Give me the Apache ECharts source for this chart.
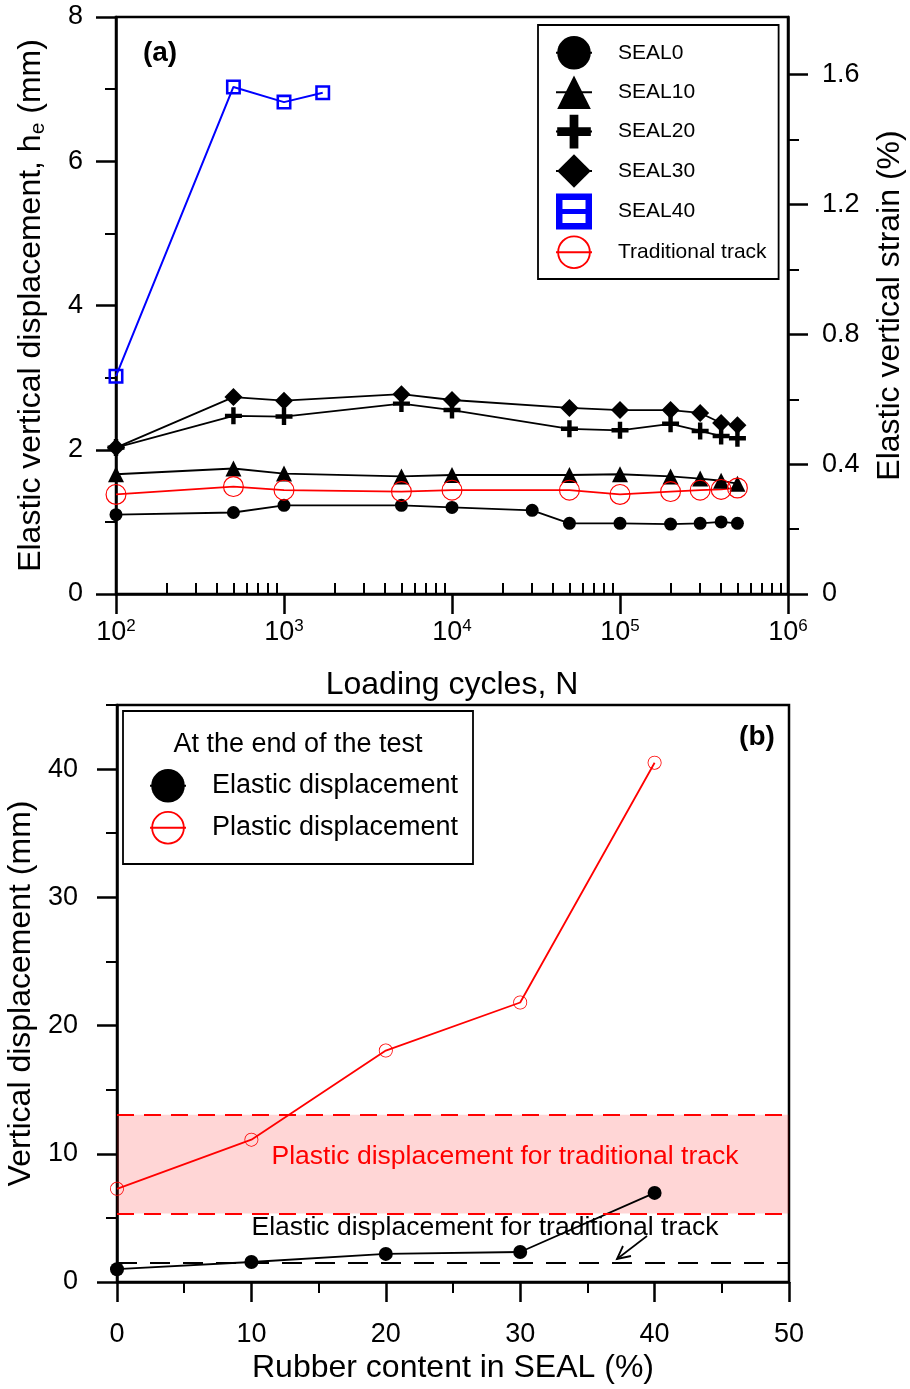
<!DOCTYPE html>
<html><head><meta charset="utf-8">
<script src="https://cdn.jsdelivr.net/npm/echarts@6.0.0/dist/echarts.min.js"></script>
<style>html,body{margin:0;padding:0;background:#fff}#c{width:910px;height:1389px}</style>
</head><body><div id="c"></div>
<script>
const FONT = '"Liberation Sans", Arial, Helvetica, sans-serif';

// ---- panel (a) data: loading cycles N vs elastic vertical displacement (mm)
const cyclesSeal0 = [100, 500, 1000, 5000, 10000, 30000, 50000, 100000, 200000, 300000, 400000, 500000];
const seal0 = [1.10, 1.13, 1.23, 1.23, 1.20, 1.16, 0.98, 0.98, 0.97, 0.98, 1.00, 0.98];
const cyclesMain = [100, 500, 1000, 5000, 10000, 50000, 100000, 200000, 300000, 400000, 500000];
const seal10 = [1.66, 1.74, 1.67, 1.63, 1.65, 1.65, 1.66, 1.63, 1.60, 1.57, 1.53];
const seal20 = [2.03, 2.47, 2.46, 2.64, 2.55, 2.29, 2.27, 2.36, 2.26, 2.19, 2.16];
const seal30 = [2.03, 2.73, 2.68, 2.77, 2.69, 2.58, 2.55, 2.55, 2.51, 2.37, 2.34];
const cyclesSeal40 = [100, 500, 1000, 1700];
const seal40 = [3.02, 7.03, 6.82, 6.95];
const traditional = [1.38, 1.49, 1.44, 1.42, 1.44, 1.44, 1.38, 1.42, 1.44, 1.45, 1.47];

// axis ticks for panel (a)
const minorCycleTicks = [200,300,400,500,600,700,800,900, 2000,3000,4000,5000,6000,7000,8000,9000,
  20000,30000,40000,50000,60000,70000,80000,90000, 200000,300000,400000,500000,600000,700000,800000,900000];
const strainMajorTicks = [0, 0.4, 0.8, 1.2, 1.6];
const strainMinorTicks = [0.2, 0.6, 1.0, 1.4];
const sampleHeightMm = 450; // 8 mm <-> 1.778 %

// ---- panel (b) data: rubber content vs displacement at end of test
const rubber = [0, 10, 20, 30, 40];
const elastic = [1.00, 1.56, 2.19, 2.34, 6.95];
const plastic = [7.27, 11.1, 18.05, 21.8, 40.5];
const plasticTradLow = 5.35;
const plasticTradHigh = 13.05;
const elasticTrad = 1.48;
const dispMajorTicks = [0, 10, 20, 30, 40];
const dispMinorTicks = [5, 15, 25, 35, 45];

const zip = (xs, ys) => xs.map((x, i) => [x, ys[i]]);

const PLUS = 'path://M3.7,0 H6.3 V3.7 H10 V6.3 H6.3 V10 H3.7 V6.3 H0 V3.7 H3.7 Z';
const HSQUARE = 'path://M0,0 H10 V10 H0 Z M1.7,1.7 V8.3 H8.3 V1.7 Z';
const HSQUARE_LEG = 'path://M0,0 H10 V10 H0 Z M1.8,1.8 V4.3 H8.2 V1.8 Z M1.8,5.7 V8.2 H8.2 V5.7 Z';
const RING = 'path://M0,10 A10,10 0 1,1 20,10 A10,10 0 1,1 0,10 Z M1.1,10 A8.9,8.9 0 1,0 18.9,10 A8.9,8.9 0 1,0 1.1,10 Z';

const black = '#000';
const axLine = {show: true, onZero: false, lineStyle: {color: black, width: 2.5}};
const majTick = (len, vals) => Object.assign({show: true, inside: false, length: len, lineStyle: {color: black, width: 2.5}}, vals ? {customValues: vals} : {});
const minTick = (vals) => ({show: true, inside: false, length: 11, customValues: vals, lineStyle: {color: black, width: 2}});
const lbl = (extra) => Object.assign({fontSize: 27, color: black, fontFamily: FONT}, extra);
const nameStyle = {fontSize: 32, color: black, fontFamily: FONT};

const chart = echarts.init(document.getElementById('c'), null, {renderer: 'canvas'});
chart.setOption({
  animation: false,
  backgroundColor: '#fff',
  textStyle: {fontFamily: FONT, color: black},
  grid: [
    {left: 116, top: 17, width: 672, height: 577, show: true, borderColor: black, borderWidth: 2.5,
     backgroundColor: 'transparent', containLabel: false, outerBoundsMode: 'none'},
    {left: 117, top: 705, width: 672, height: 577, show: true, borderColor: black, borderWidth: 2.5,
     backgroundColor: 'transparent', containLabel: false, outerBoundsMode: 'none'}
  ],
  xAxis: [
    {type: 'log', gridIndex: 0, logBase: 10, min: 100, max: 1e6, splitNumber: 4,
     axisLine: axLine, axisTick: majTick(20), splitLine: {show: false},
     axisLabel: {margin: 24, color: black,
       formatter: v => '{b|10}{s|' + Math.round(Math.log10(v)) + '}',
       rich: {b: {fontSize: 27, lineHeight: 30, fontFamily: FONT, color: black},
              s: {fontSize: 17, lineHeight: 12, verticalAlign: 'top', fontFamily: FONT, color: black}}},
     name: 'Loading cycles, N', nameLocation: 'middle', nameGap: 75, nameTextStyle: nameStyle},
    {type: 'log', gridIndex: 0, logBase: 10, min: 100, max: 1e6,
     axisLine: {show: false}, axisLabel: {show: false}, splitLine: {show: false},
     axisTick: minTick(minorCycleTicks)},
    {type: 'value', gridIndex: 1, min: 0, max: 50, interval: 10,
     axisLine: axLine, axisTick: majTick(20),
     minorTick: {show: true, splitNumber: 2, length: 11, lineStyle: {color: black, width: 2}},
     splitLine: {show: false}, axisLabel: lbl({margin: 39}),
     name: 'Rubber content in SEAL (%)', nameLocation: 'middle', nameGap: 70, nameTextStyle: nameStyle}
  ],
  yAxis: [
    {type: 'value', gridIndex: 0, position: 'left', min: 0, max: 8, interval: 2,
     axisLine: axLine, axisTick: majTick(20),
     minorTick: {show: true, splitNumber: 2, length: 11, lineStyle: {color: black, width: 2}},
     splitLine: {show: false}, axisLabel: lbl({margin: 33}),
     name: '{t|Elastic vertical displacement, h}{s|e}{t| (mm)}', nameLocation: 'middle', nameRotate: 90, nameGap: 67,
     nameTextStyle: {color: black, rich: {t: {fontSize: 32, lineHeight: 36, fontFamily: FONT, color: black},
                                          s: {fontSize: 21, lineHeight: 17, verticalAlign: 'bottom', fontFamily: FONT, color: black}}}},
    {type: 'value', gridIndex: 0, position: 'right', min: 0, max: 800 / sampleHeightMm,
     axisLine: axLine, axisTick: majTick(20, strainMajorTicks), splitLine: {show: false},
     axisLabel: lbl({margin: 34, customValues: strainMajorTicks, formatter: v => v === 0 ? '0' : v.toFixed(1)}),
     name: 'Elastic vertical strain (%)', nameLocation: 'middle', nameRotate: 90, nameGap: 86, nameTextStyle: nameStyle},
    {type: 'value', gridIndex: 0, position: 'right', min: 0, max: 800 / sampleHeightMm,
     axisLine: {show: false}, axisLabel: {show: false}, splitLine: {show: false},
     axisTick: minTick(strainMinorTicks)},
    {type: 'value', gridIndex: 1, position: 'left', min: 0, max: 45,
     axisLine: axLine, axisTick: majTick(20, dispMajorTicks), splitLine: {show: false},
     axisLabel: lbl({margin: 39, customValues: dispMajorTicks}),
     name: 'Vertical displacement (mm)', nameLocation: 'middle', nameRotate: 90, nameGap: 73, nameTextStyle: nameStyle},
    {type: 'value', gridIndex: 1, position: 'left', min: 0, max: 45,
     axisLine: {show: false}, axisLabel: {show: false}, splitLine: {show: false},
     axisTick: minTick(dispMinorTicks)}
  ],
  legend: [
    {data: ['SEAL0', 'SEAL10', 'SEAL20', 'SEAL30', {name: 'SEAL40', icon: HSQUARE_LEG}, 'Traditional track'],
     orient: 'vertical', left: 538, top: 25, itemWidth: 36, itemHeight: 42, itemGap: 5.8,
     padding: [11, 12, 10, 17], borderColor: black, borderWidth: 1.8, selectedMode: false,
     textStyle: {fontSize: 21, color: black, fontFamily: FONT, padding: [0, 0, 0, 21]}},
    {data: ['Elastic displacement', 'Plastic displacement'],
     orient: 'vertical', left: 149, top: 769, itemWidth: 36, itemHeight: 42, itemGap: 8.4,
     padding: 0, selectedMode: false,
     textStyle: {fontSize: 27, color: black, fontFamily: FONT, padding: [0, 0, 0, 21]}}
  ],
  series: [
    {name: 'SEAL0', type: 'line', xAxisIndex: 0, yAxisIndex: 0, data: zip(cyclesSeal0, seal0),
     symbol: 'circle', symbolSize: 13, itemStyle: {color: black}, lineStyle: {color: black, width: 1.8}},
    {name: 'SEAL10', type: 'line', xAxisIndex: 0, yAxisIndex: 0, data: zip(cyclesMain, seal10),
     symbol: 'triangle', symbolSize: 16, itemStyle: {color: black}, lineStyle: {color: black, width: 1.8}},
    {name: 'SEAL20', type: 'line', xAxisIndex: 0, yAxisIndex: 0, data: zip(cyclesMain, seal20),
     symbol: PLUS, symbolSize: 17, itemStyle: {color: black}, lineStyle: {color: black, width: 1.8}},
    {name: 'SEAL30', type: 'line', xAxisIndex: 0, yAxisIndex: 0, data: zip(cyclesMain, seal30),
     symbol: 'diamond', symbolSize: 18, itemStyle: {color: black}, lineStyle: {color: black, width: 1.8}},
    {name: 'SEAL40', type: 'line', xAxisIndex: 0, yAxisIndex: 0, data: zip(cyclesSeal40, seal40),
     symbol: HSQUARE, symbolSize: 15, itemStyle: {color: '#0000ff'}, lineStyle: {color: '#0000ff', width: 2}},
    {name: 'Traditional track', type: 'line', xAxisIndex: 0, yAxisIndex: 0, data: zip(cyclesMain, traditional),
     symbol: RING, symbolSize: 21, itemStyle: {color: '#ff0000'}, lineStyle: {color: '#ff0000', width: 1.8}},
    {name: 'Plastic displacement', type: 'line', xAxisIndex: 2, yAxisIndex: 3, data: zip(rubber, plastic),
     symbol: RING, symbolSize: 14, itemStyle: {color: '#ff0000'}, lineStyle: {color: '#ff0000', width: 1.8},
     markArea: {silent: true, itemStyle: {color: 'rgba(255,0,0,0.16)'},
       data: [[{yAxis: plasticTradLow}, {yAxis: plasticTradHigh}]]},
     markLine: {silent: true, symbol: 'none', label: {show: false},
       lineStyle: {color: '#ff0000', type: [17, 10], width: 2},
       data: [{yAxis: plasticTradLow}, {yAxis: plasticTradHigh}]}},
    {name: 'Elastic displacement', type: 'line', xAxisIndex: 2, yAxisIndex: 3, data: zip(rubber, elastic),
     symbol: 'circle', symbolSize: 14, itemStyle: {color: black}, lineStyle: {color: black, width: 1.8},
     markLine: {silent: true, symbol: 'none', label: {show: false},
       lineStyle: {color: black, type: [20, 13], width: 1.8},
       data: [{yAxis: elasticTrad}]}}
  ],
  graphic: [
    {type: 'text', x: 160, y: 53, style: {text: '(a)', font: 'bold 28px ' + FONT, fill: black, align: 'center', verticalAlign: 'middle'}},
    {type: 'text', x: 757, y: 737, style: {text: '(b)', font: 'bold 28px ' + FONT, fill: black, align: 'center', verticalAlign: 'middle'}},
    {type: 'rect', shape: {x: 123, y: 711, width: 350, height: 153}, style: {fill: 'none', stroke: black, lineWidth: 1.8}},
    {type: 'text', x: 298, y: 745, style: {text: 'At the end of the test', font: '27px ' + FONT, fill: black, align: 'center', verticalAlign: 'middle'}},
    {type: 'text', x: 505, y: 1157, z: 10, style: {text: 'Plastic displacement for traditional track', font: '26.5px ' + FONT, fill: '#ff0000', align: 'center', verticalAlign: 'middle'}},
    {type: 'text', x: 485, y: 1228, z: 10, style: {text: 'Elastic displacement for traditional track', font: '26.5px ' + FONT, fill: black, align: 'center', verticalAlign: 'middle'}},
    {type: 'polyline', z: 10, shape: {points: [[647, 1236], [617, 1259]]}, style: {stroke: black, lineWidth: 1.6, fill: null}},
    {type: 'polyline', z: 10, shape: {points: [[623, 1246], [617, 1259], [631, 1256]]}, style: {stroke: black, lineWidth: 1.8, fill: null}}
  ]
});
</script></body></html>
